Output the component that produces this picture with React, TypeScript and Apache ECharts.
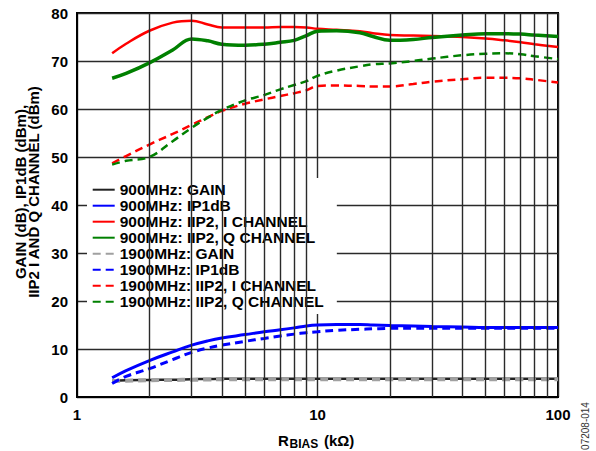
import React, { useEffect, useRef } from "react";
import * as echarts from "echarts";

// R_BIAS (kΩ) sample points
const rBias = [1.4, 1.6, 2, 2.5, 3, 3.5, 4, 5, 6, 7, 8, 9, 10, 12, 15, 17, 20, 25, 30, 40, 50, 60, 70, 80, 100];

const gain900 = [3.4, 3.5, 3.55, 3.6, 3.7, 3.75, 3.8, 3.8, 3.8, 3.8, 3.8, 3.8, 3.8, 3.8, 3.8, 3.8, 3.8, 3.8, 3.8, 3.8, 3.8, 3.8, 3.8, 3.8, 3.8];
const ip1dB900 = [4.0, 5.5, 7.6, 9.4, 10.8, 11.7, 12.3, 13.0, 13.6, 14.0, 14.4, 14.8, 15.0, 15.1, 15.1, 15.0, 14.9, 14.8, 14.7, 14.6, 14.5, 14.5, 14.5, 14.5, 14.5];
const iip2I900 = [71.6, 73.6, 76.3, 78.0, 78.4, 77.6, 77.0, 77.0, 77.0, 77.1, 77.1, 77.0, 76.7, 76.5, 76.2, 75.8, 75.4, 75.3, 75.2, 75.0, 74.7, 74.3, 73.9, 73.5, 72.9];
const iip2Q900 = [66.4, 67.4, 69.6, 72.3, 74.6, 74.2, 73.5, 73.3, 73.5, 73.9, 74.3, 75.3, 76.2, 76.3, 75.9, 75.1, 74.3, 74.5, 74.9, 75.4, 75.7, 75.7, 75.6, 75.4, 75.1];
const gain1900 = [3.3, 3.4, 3.5, 3.55, 3.6, 3.65, 3.7, 3.7, 3.7, 3.7, 3.7, 3.7, 3.7, 3.7, 3.7, 3.7, 3.7, 3.7, 3.7, 3.7, 3.7, 3.7, 3.7, 3.7, 3.7];
const ip1dB1900 = [2.8, 4.3, 5.9, 7.8, 9.3, 10.2, 10.8, 11.6, 12.2, 12.7, 13.1, 13.4, 13.6, 13.9, 14.1, 14.2, 14.3, 14.3, 14.3, 14.3, 14.3, 14.3, 14.3, 14.3, 14.3];
const iip2I1900 = [48.7, 50.2, 52.6, 54.8, 56.7, 58.3, 59.6, 61.1, 62.0, 62.7, 63.3, 63.9, 64.8, 64.9, 64.8, 64.7, 64.7, 65.2, 65.7, 66.2, 66.5, 66.5, 66.4, 66.1, 65.5];
const iip2Q1900 = [48.4, 49.2, 50.0, 53.3, 56.1, 58.2, 59.8, 61.8, 62.9, 64.1, 65.0, 65.8, 66.9, 68.0, 68.9, 69.3, 69.5, 70.0, 70.5, 71.2, 71.5, 71.6, 71.4, 71.0, 70.4];

const legendNames = [
  "900MHz: GAIN",
  "900MHz: IP1dB",
  "900MHz: IIP2, I CHANNEL",
  "900MHz: IIP2, Q CHANNEL",
  "1900MHz: GAIN",
  "1900MHz: IP1dB",
  "1900MHz: IIP2, I CHANNEL",
  "1900MHz: IIP2, Q CHANNEL",
];

const minorGridX = [2, 3, 4, 5, 6, 7, 8, 9, 20, 30, 40, 50, 60, 70, 80, 90];

const FONT = "'Liberation Sans', Arial, Helvetica, sans-serif";

function mk(name: string, vals: number[], color: string, width: number, dashed: boolean) {
  return {
    name,
    type: "line",
    data: rBias.map((x, i) => [x, vals[i]]),
    smooth: 0.4,
    showSymbol: false,
    symbol: "none",
    z: 3,
    lineStyle: { color, width, type: dashed ? [8, 5] : "solid", cap: "butt" },
    itemStyle: { color, opacity: 0 },
  };
}

export default function App() {
  const ref = useRef<HTMLDivElement>(null);
  useEffect(() => {
    document.body.style.margin = "0";
    const chart = echarts.init(ref.current!, null, { renderer: "svg" });
    const gridLine = { color: "#2a2a2a", width: 1.4 };
    chart.setOption({
      animation: false,
      backgroundColor: "#fff",
      grid: { left: 77, right: 38, top: 13, bottom: 54, show: true, borderColor: "#000", borderWidth: 2, backgroundColor: "transparent" },
      xAxis: {
        type: "log",
        logBase: 10,
        min: 1,
        max: 100,
        splitNumber: 2,
        axisLine: { show: true, lineStyle: { color: "#000", width: 2 } },
        axisTick: { show: false },
        axisLabel: { color: "#000", fontSize: 15, fontWeight: "bold", fontFamily: FONT, margin: 10 },
        splitLine: { show: true, lineStyle: gridLine },
      },
      yAxis: {
        type: "value",
        min: 0,
        max: 80,
        interval: 10,
        axisLine: { show: true, lineStyle: { color: "#000", width: 2 } },
        axisTick: { show: false },
        axisLabel: { color: "#000", fontSize: 15, fontWeight: "bold", fontFamily: FONT, margin: 9 },
        splitLine: { show: true, lineStyle: gridLine },
      },
      legend: {
        orient: "vertical",
        left: 87,
        top: 178,
        padding: [3.7, 13, 4.3, 4.7],
        backgroundColor: "#fff",
        itemWidth: 22,
        itemHeight: 10,
        itemGap: 0,
        itemTextGap: 5,
        itemStyle: { opacity: 0, borderWidth: 0 },
        data: legendNames,
        textStyle: { color: "#000", fontSize: 15.5, fontWeight: "bold", fontFamily: FONT, lineHeight: 16 },
      },
      series: [
        {
          name: "grid-minor",
          type: "line",
          data: [],
          z: 1,
          markLine: {
            silent: true,
            symbol: ["none", "none"],
            label: { show: false },
            lineStyle: { color: "#2a2a2a", width: 1.4, type: "solid" },
            data: minorGridX.map((v) => ({ xAxis: v })),
          },
        },
        mk(legendNames[0], gain900, "#222222", 2.5, false),
        mk(legendNames[4], gain1900, "#a0a0a0", 4, true),
        mk(legendNames[1], ip1dB900, "#0000ff", 3, false),
        mk(legendNames[5], ip1dB1900, "#0000ff", 3, true),
        mk(legendNames[2], iip2I900, "#ff0000", 2.5, false),
        mk(legendNames[3], iip2Q900, "#008000", 3.5, false),
        mk(legendNames[6], iip2I1900, "#ff0000", 2.5, true),
        mk(legendNames[7], iip2Q1900, "#008000", 2.5, true),
      ],
      graphic: [
        {
          type: "text",
          x: 27,
          y: 192,
          rotation: Math.PI / 2,
          style: {
            text: "GAIN (dB), IP1dB (dBm),\nIIP2 I AND Q CHANNEL (dBm)",
            fill: "#000",
            font: `bold 15px ${FONT}`,
            lineHeight: 13.5,
            align: "center",
            verticalAlign: "middle",
          },
        },
        {
          type: "text",
          x: 278,
          y: 440.5,
          style: { text: "R", fill: "#000", font: `bold 15px ${FONT}`, align: "left", verticalAlign: "middle" },
        },
        {
          type: "text",
          x: 289.5,
          y: 444,
          style: { text: "BIAS", fill: "#000", font: `bold 12px ${FONT}`, align: "left", verticalAlign: "middle" },
        },
        {
          type: "text",
          x: 324,
          y: 440.5,
          style: { text: "(kΩ)", fill: "#000", font: `bold 15px ${FONT}`, align: "left", verticalAlign: "middle" },
        },
        {
          type: "text",
          x: 585.5,
          y: 426,
          rotation: Math.PI / 2,
          style: { text: "07208-014", fill: "#333", font: `10px ${FONT}`, align: "center", verticalAlign: "middle" },
        },
      ],
    });
    return () => chart.dispose();
  }, []);
  return <div ref={ref} style={{ width: 596, height: 451 }} />;
}
